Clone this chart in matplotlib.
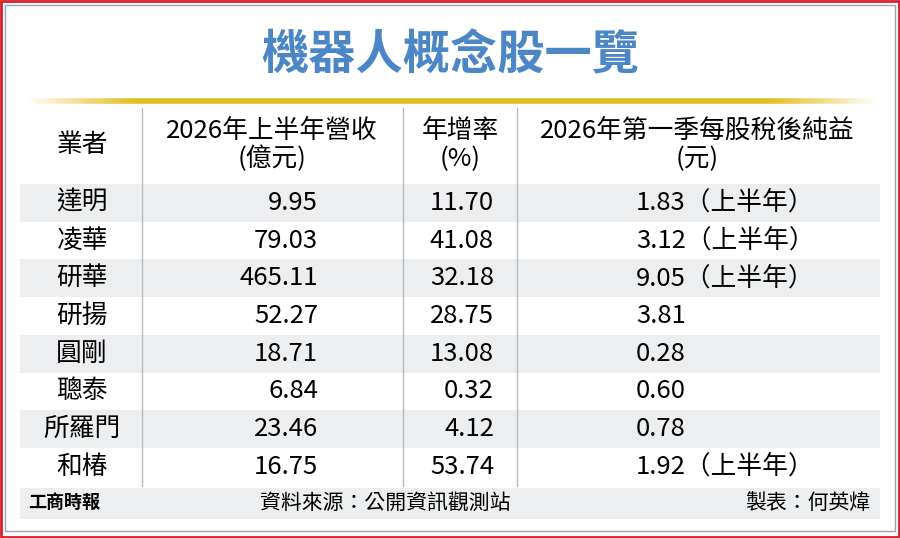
import matplotlib
matplotlib.use("Agg")
import matplotlib.pyplot as plt
import numpy as np
from matplotlib.patches import Rectangle

plt.rcParams['font.family'] = ['Noto Sans CJK TC', 'DejaVu Sans']

title = "機器人概念股一覽"
headers = ["業者", "2026年上半年營收\n(億元)", "年增率\n(%)", "2026年第一季每股稅後純益\n(元)"]
companies = ["達明", "凌華", "研華", "研揚", "圓剛", "聰泰", "所羅門", "和椿"]
revenue = ["9.95", "79.03", "465.11", "52.27", "18.71", "6.84", "23.46", "16.75"]
growth = ["11.70", "41.08", "32.18", "28.75", "13.08", "0.32", "4.12", "53.74"]
eps = ["1.83（上半年）", "3.12（上半年）", "9.05（上半年）", "3.81", "0.28", "0.60", "0.78", "1.92（上半年）"]
source = "資料來源：公開資訊觀測站"
maker = "製表：何英煒"
brand = "工商時報"

W, H = 900, 538
fig = plt.figure(figsize=(9, 5.38), dpi=100)
ax = fig.add_axes([0, 0, 1, 1])
ax.set_xlim(0, W); ax.set_ylim(H, 0); ax.axis('off')

ax.add_patch(Rectangle((1, 1), W-2, H-2, fill=False, ec='#d9202a', lw=2))
ax.add_patch(Rectangle((5, 5), W-10, H-12, fill=False, ec='#9aa4b0', lw=1))

ax.text(450, 55, title, ha='center', va='center', fontsize=34, color='#4b87c6', fontweight='bold')

xs = np.linspace(25, 875, 200)
for i in range(len(xs)-1):
    t = (xs[i]-25)/850
    a = min(1, min(t, 1-t)*8)
    ax.plot([xs[i], xs[i+1]], [101, 101], color='#e3bd1e', alpha=a, lw=4, solid_capstyle='butt')

top = 184; rh = 37.7
x0, x1 = 20, 880
cols = [142, 403, 517]
for i in range(len(companies)):
    y = top + i*rh
    if i % 2 == 0:
        ax.add_patch(Rectangle((x0, y), x1-x0, rh, color='#eceef0', lw=0))
footer_y = top + len(companies)*rh + 2
ax.add_patch(Rectangle((x0, footer_y), x1-x0, 31, color='#eceef0', lw=0))
for c in cols:
    ax.plot([c, c], [108, footer_y-2], color='#b8bcc0', lw=1)

fs = 18.5
ax.text(82, 145, headers[0], ha='center', va='center', fontsize=fs)
ax.text(272, 145, headers[1], ha='center', va='center', fontsize=fs, linespacing=1.1)
ax.text(460, 145, headers[2], ha='center', va='center', fontsize=fs, linespacing=1.1)
ax.text(697, 145, headers[3], ha='center', va='center', fontsize=fs, linespacing=1.1)

for i in range(len(companies)):
    yc = top + i*rh + rh/2
    ax.text(82, yc, companies[i], ha='center', va='center', fontsize=fs)
    ax.text(318, yc, revenue[i], ha='right', va='center', fontsize=fs)
    ax.text(494, yc, growth[i], ha='right', va='center', fontsize=fs)
    ax.text(636, yc, eps[i], ha='left', va='center', fontsize=fs)

fy = footer_y + 15
ax.text(28, fy, brand, ha='left', va='center', fontsize=13, fontweight='black')
ax.text(385, fy, source, ha='center', va='center', fontsize=15)
ax.text(870, fy, maker, ha='right', va='center', fontsize=15)

fig.savefig('out.png', dpi=100)
